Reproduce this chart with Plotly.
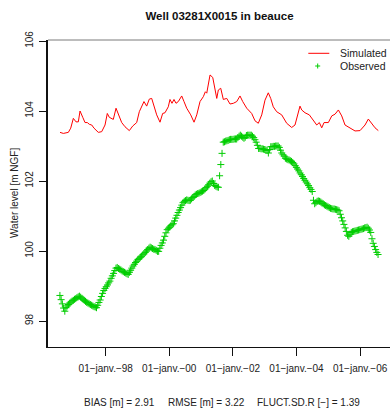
import pandas as pd
import plotly.graph_objects as go

# Observed piezometric level, fortnightly readings
obs_start = "1996-07-24"
obs_values = [
    98.73, 98.61, 98.49, 98.37, 98.28, 98.38, 98.43, 98.47, 98.51, 98.54,
    98.57, 98.59, 98.62, 98.64, 98.67, 98.69, 98.71, 98.68, 98.65, 98.62,
    98.59, 98.56, 98.53, 98.51, 98.49, 98.47, 98.45, 98.43, 98.41, 98.40,
    98.38, 98.45, 98.53, 98.60, 98.70, 98.79, 98.87, 98.93, 98.98, 99.03,
    99.09, 99.14, 99.22, 99.29, 99.36, 99.44, 99.51, 99.53, 99.50, 99.48,
    99.46, 99.43, 99.41, 99.39, 99.37, 99.35, 99.33, 99.39, 99.45, 99.51,
    99.57, 99.62, 99.67, 99.71, 99.76, 99.78, 99.82, 99.85, 99.89, 99.92,
    99.96, 100.00, 100.04, 100.08, 100.11, 100.09, 100.07, 100.05, 100.04, 100.02,
    99.99, 99.99, 100.08, 100.16, 100.23, 100.31, 100.42, 100.52, 100.61, 100.65,
    100.68, 100.72, 100.75, 100.78, 100.86, 100.94, 101.02, 101.10, 101.17, 101.24,
    101.31, 101.38, 101.42, 101.44, 101.46, 101.45, 101.44, 101.45, 101.49, 101.53,
    101.56, 101.60, 101.62, 101.64, 101.65, 101.67, 101.69, 101.71, 101.73, 101.77,
    101.81, 101.85, 101.89, 101.94, 101.98, 102.00, 101.93, 101.87, 101.85, 101.83,
    101.82, 102.15, 102.47, 102.79, 103.11, 103.12, 103.14, 103.15, 103.16, 103.18,
    103.19, 103.19, 103.19, 103.20, 103.20, 103.20, 103.24, 103.28, 103.31, 103.28,
    103.25, 103.22, 103.25, 103.30, 103.31, 103.31, 103.31, 103.31, 103.28, 103.24,
    103.18, 103.11, 103.02, 102.93, 102.93, 102.92, 102.92, 102.91, 102.90, 102.89,
    102.87, 102.80, 102.90, 102.98, 102.98, 102.99, 102.99, 103.00, 103.00, 103.00,
    102.96, 102.88, 102.80, 102.75, 102.71, 102.65, 102.63, 102.61, 102.60, 102.58,
    102.56, 102.53, 102.49, 102.44, 102.39, 102.34, 102.29, 102.23, 102.18, 102.13,
    102.07, 102.02, 101.97, 101.92, 101.87, 101.81, 101.76, 101.70, 101.45, 101.35,
    101.38, 101.42, 101.43, 101.42, 101.40, 101.37, 101.35, 101.32, 101.30, 101.28,
    101.26, 101.24, 101.22, 101.21, 101.20, 101.20, 101.19, 101.18, 101.17, 101.15,
    101.05, 100.95, 100.86, 100.76, 100.66, 100.56, 100.45, 100.42, 100.48, 100.53,
    100.55, 100.56, 100.57, 100.58, 100.59, 100.60, 100.61, 100.62, 100.63, 100.64,
    100.66, 100.67, 100.68, 100.65, 100.60, 100.53, 100.35, 100.22, 100.13, 100.04,
    99.96, 99.90,
]

# Simulated level (decimal years, metres NGF)
sim_years = [
    1996.563, 1996.667, 1996.824, 1996.899, 1996.981, 1997.066, 1997.138, 1997.192,
    1997.277, 1997.349, 1997.421, 1997.484, 1997.560, 1997.632, 1997.767, 1997.874,
    1997.978, 1998.050, 1998.113, 1998.239, 1998.324, 1998.396, 1998.503, 1998.607,
    1998.742, 1998.849, 1998.975, 1999.057, 1999.132, 1999.204, 1999.289, 1999.371,
    1999.447, 1999.519, 1999.604, 1999.708, 1999.792, 1999.865, 1999.969, 2000.022,
    2000.085, 2000.148, 2000.211, 2000.283, 2000.390, 2000.462, 2000.547, 2000.673,
    2000.777, 2000.862, 2000.965, 2001.069, 2001.132, 2001.176, 2001.280, 2001.365,
    2001.437, 2001.491, 2001.541, 2001.616, 2001.698, 2001.805, 2001.909, 2002.013,
    2002.120, 2002.223, 2002.308, 2002.434, 2002.591, 2002.695, 2002.799, 2002.906,
    2003.009, 2003.113, 2003.189, 2003.270, 2003.377, 2003.535, 2003.692, 2003.849,
    2003.953, 2004.038, 2004.110, 2004.164, 2004.267, 2004.403, 2004.528, 2004.635,
    2004.717, 2004.792, 2004.865, 2005.000, 2005.107, 2005.211, 2005.315, 2005.421,
    2005.525, 2005.682, 2005.840, 2005.997, 2006.154, 2006.258, 2006.365, 2006.469,
    2006.572,
]
sim_values = [
    103.39, 103.36, 103.39, 103.51, 103.79, 103.69, 103.69, 104.00,
    103.82, 103.67, 103.67, 103.62, 103.60, 103.51, 103.39, 103.41,
    103.60, 103.93, 103.82, 103.76, 104.08, 103.89, 103.67, 103.55,
    103.44, 103.57, 103.67, 103.98, 104.14, 104.27, 104.14, 104.34,
    104.36, 104.12, 103.89, 103.68, 103.93, 103.95, 104.12, 104.33,
    104.22, 104.33, 104.22, 104.27, 104.43, 104.27, 104.08, 103.89,
    103.68, 103.89, 104.27, 104.41, 104.55, 104.51, 105.03, 104.96,
    104.60, 104.36, 104.60, 104.65, 104.33, 104.36, 104.20, 104.22,
    104.27, 104.43, 104.27, 104.08, 103.93, 103.72, 103.65, 103.89,
    104.31, 104.52, 104.36, 104.12, 103.98, 103.89, 103.65, 103.53,
    103.60, 103.89, 104.14, 104.03, 103.95, 103.89, 103.74, 103.60,
    103.67, 103.52, 103.67, 103.67, 103.86, 103.91, 104.03, 103.86,
    103.60, 103.51, 103.43, 103.44, 103.60, 103.77, 103.63, 103.52,
    103.44,
]

tick_dates = ["1998-01-01", "2000-01-01", "2002-01-01", "2004-01-01", "2006-01-01"]
tick_labels = ["01\u2212janv.\u221298", "01\u2212janv.\u221200", "01\u2212janv.\u221202",
               "01\u2212janv.\u221204", "01\u2212janv.\u221206"]
y_ticks = [98, 100, 102, 104, 106]

scores = ["BIAS [m] = 2.91", "RMSE [m] = 3.22", "FLUCT.SD.R [\u2212] = 1.39"]


def year_to_date(y):
    yr = int(y)
    start = pd.Timestamp(year=yr, month=1, day=1)
    length = (pd.Timestamp(year=yr + 1, month=1, day=1) - start).days
    return start + pd.Timedelta(days=(y - yr) * length)


sim_dates = [year_to_date(y) for y in sim_years]
obs_dates = pd.date_range(obs_start, periods=len(obs_values), freq="14D")

RED = "#FF0000"
GREEN = "#00CD00"
FONT = "Liberation Sans, Arial, sans-serif"

fig = go.Figure()
fig.add_trace(go.Scatter(
    x=sim_dates, y=sim_values, mode="lines", name="Simulated",
    line=dict(color=RED, width=1), showlegend=False,
))
fig.add_trace(go.Scatter(
    x=obs_dates, y=obs_values, mode="markers", name="Observed",
    marker=dict(symbol="cross-thin", size=5, line=dict(color=GREEN, width=1)),
    showlegend=False,
))

# plot area in pixels: x 48..390, y 40..347
W, H = 390, 412
L, R, T, B = 48, 0, 40, 65
pw, ph = W - L - R, H - T - B


def px(x):
    return (x - L) / pw


def py(y):
    return (H - B - y) / ph


shapes = [
    # upper frame edge
    dict(type="line", xref="paper", yref="paper", x0=0, x1=1, y0=1, y1=1,
         line=dict(color="#7a7a7a", width=1)),
    # legend samples
    dict(type="line", xref="paper", yref="paper", x0=px(308.3), x1=px(329.3),
         y0=py(53.3), y1=py(53.3), line=dict(color=RED, width=1)),
    dict(type="line", xref="paper", yref="paper", x0=px(315.2), x1=px(320.2),
         y0=py(66), y1=py(66), line=dict(color=GREEN, width=1)),
    dict(type="line", xref="paper", yref="paper", x0=px(317.7), x1=px(317.7),
         y0=py(63.5), y1=py(68.5), line=dict(color=GREEN, width=1)),
]

annotations = [
    dict(text="Simulated", xref="paper", yref="paper", x=px(338.3), y=py(53.3),
         xanchor="left", yanchor="middle", showarrow=False,
         font=dict(family=FONT, size=10.5, color="#222")),
    dict(text="Observed", xref="paper", yref="paper", x=px(338.3), y=py(66),
         xanchor="left", yanchor="middle", showarrow=False,
         font=dict(family=FONT, size=10.5, color="#222")),
    dict(text="Water level [m NGF]", xref="paper", yref="paper", x=px(14), y=py(193),
         xanchor="center", yanchor="middle", textangle=-90, showarrow=False,
         font=dict(family=FONT, size=10, color="#222")),
]
for label, xpos in zip(scores, [81.7, 165.7, 255.3]):
    annotations.append(dict(
        text=label, xref="paper", yref="paper", x=px(xpos), y=py(402),
        xanchor="left", yanchor="middle", showarrow=False,
        font=dict(family=FONT, size=10, color="#222"),
    ))

fig.update_layout(
    width=W, height=H,
    margin=dict(l=L, r=R, t=T, b=B, pad=0),
    paper_bgcolor="white", plot_bgcolor="white",
    title=dict(text="<b>Well 03281X0015 in beauce</b>", x=px(219.5), xref="paper",
               y=1 - 16 / H, yref="container", xanchor="center", yanchor="middle",
               font=dict(family=FONT, size=11.5, color="#111")),
    xaxis=dict(
        type="date", range=[year_to_date(1996.186), year_to_date(2006.94)],
        tickvals=tick_dates, ticktext=tick_labels, ticks="outside", ticklen=8,
        tickcolor="#111", tickwidth=1, showline=True, linecolor="#111", linewidth=1,
        showgrid=False, zeroline=False, ticklabelstandoff=4,
        tickfont=dict(family=FONT, size=10, color="#222"),
    ),
    yaxis=dict(
        range=[97.257, 106.029], tickvals=y_ticks, ticks="outside", ticklen=7,
        tickcolor="#111", tickwidth=1, showline=True, linecolor="#111", linewidth=1.5,
        showgrid=False, zeroline=False, tickangle=-90, ticklabelstandoff=2,
        tickfont=dict(family=FONT, size=10, color="#222"),
    ),
    shapes=shapes, annotations=annotations, showlegend=False,
)

fig.write_html("out.html")
